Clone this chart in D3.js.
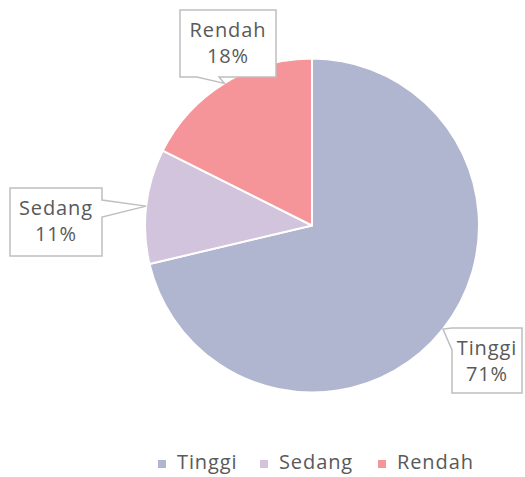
<!DOCTYPE html>
<html><head><meta charset="utf-8">
<script src="https://cdn.jsdelivr.net/npm/d3@7"></script>
<style>body{margin:0;background:#fff}svg{display:block}</style>
</head><body><svg id="c" width="525" height="477"></svg>
<script>
const categories = ["Tinggi", "Sedang", "Rendah"];
const values = [71.3, 11.1, 17.6];
const labels = ["71%", "11%", "18%"];
const colors = ["#B0B6D0", "#D2C4DD", "#F59499"];

const cx = 312, cy = 225.5, R = 167;
const font = "'Open Sans', sans-serif";
const fs = 20, ls = "0.9px";
const textColor = "#595959";
const svg = d3.select("#c");

const pie = d3.pie().sort(null).value(d => d.v);
const data = categories.map((c, i) => ({c, v: values[i], l: labels[i], col: colors[i]}));
const arcs = pie(data);
const arc = d3.arc().innerRadius(0).outerRadius(R);

const g = svg.append("g").attr("transform", `translate(${cx},${cy})`);
g.selectAll("path").data(arcs).enter().append("path")
  .attr("d", arc).attr("fill", d => d.data.col)
  .attr("stroke", "#fff").attr("stroke-width", 2).attr("stroke-linejoin", "round");

// callout boxes
const boxes = [
  {x: 452, y: 328, w: 70, h: 65, side: "left", b0: 0, b1: 22},
  {x: 10, y: 188, w: 92, h: 68, side: "right", b0: 12, b1: 29},
  {x: 180, y: 10, w: 96, h: 67, side: "bottom", b0: 17, b1: 39}
];

arcs.forEach((a, i) => {
  const b = boxes[i];
  const m = (a.startAngle + a.endAngle) / 2;
  const tx = cx + R * Math.sin(m), ty = cy - R * Math.cos(m);
  let pts;
  const {x, y, w, h} = b;
  if (b.side === "left") {
    pts = [[x, y], [x + w, y], [x + w, y + h], [x, y + h], [x, y + b.b1], [tx, ty], [x, y + b.b0]];
  } else if (b.side === "right") {
    pts = [[x, y], [x + w, y], [x + w, y + b.b0], [tx, ty], [x + w, y + b.b1], [x + w, y + h], [x, y + h]];
  } else {
    pts = [[x, y], [x + w, y], [x + w, y + h], [x + b.b1, y + h], [tx, ty], [x + b.b0, y + h], [x, y + h]];
  }
  svg.append("path")
    .attr("d", "M" + pts.map(p => p.join(",")).join("L") + "Z")
    .attr("fill", "#fff").attr("stroke", "#BFBFBF").attr("stroke-width", 1.5);
  const t = svg.append("text").attr("text-anchor", "middle")
    .attr("font-family", font).attr("font-size", fs).attr("letter-spacing", ls).attr("fill", textColor);
  t.append("tspan").attr("x", x + w / 2).attr("y", y + 27).text(a.data.c);
  t.append("tspan").attr("x", x + w / 2).attr("y", y + 53).text(a.data.l);
});

// legend
const legX = [158, 260, 378];
const lg = svg.append("g");
data.forEach((d, i) => {
  lg.append("rect").attr("x", legX[i]).attr("y", 460).attr("width", 8).attr("height", 8).attr("fill", d.col);
  lg.append("text").attr("x", legX[i] + 19).attr("y", 469)
    .attr("font-family", font).attr("font-size", fs).attr("letter-spacing", ls).attr("fill", textColor).text(d.c);
});
</script></body></html>
